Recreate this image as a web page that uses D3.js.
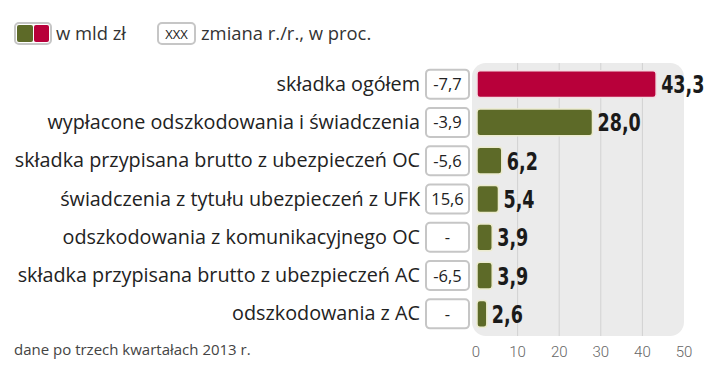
<!DOCTYPE html>
<html>
<head>
<meta charset="utf-8">
<script src="https://cdn.jsdelivr.net/npm/d3@7"></script>
<style>
  body { margin: 0; background: #fff; }
  svg text { font-family: "Open Sans", Roboto, sans-serif; }
  .lbl { font-size: 19.8px; fill: #222; }
  .leg { font-size: 18.4px; fill: #333; }
  .val { font-family: "DejaVu Sans Condensed", "DejaVu Sans", sans-serif !important; font-weight: bold; font-size: 25px; fill: #1a1a1a; }
  .chg { font-size: 16.5px; fill: #222; }
  .tick-lbl { font-size: 15px; fill: #666; font-family: Roboto, sans-serif !important; font-weight: 300; }
</style>
</head>
<body>
<div id="chart"></div>
<script>
// dane
var categories = [
  "składka ogółem",
  "wypłacone odszkodowania i świadczenia",
  "składka przypisana brutto z ubezpieczeń OC",
  "świadczenia z tytułu ubezpieczeń z UFK",
  "odszkodowania z komunikacyjnego OC",
  "składka przypisana brutto z ubezpieczeń AC",
  "odszkodowania z AC"
];
var values = [43.3, 28.0, 6.2, 5.4, 3.9, 3.9, 2.6];
var changes = ["-7,7", "-3,9", "-5,6", "15,6", "-", "-6,5", "-"];
var ticks = [0, 10, 20, 30, 40, 50];

var width = 720, height = 374;
var red = "#b8003a", green = "#5d6a28";
var fmt = d => d.toFixed(1).replace(".", ",");

var svg = d3.select("#chart").append("svg")
  .attr("width", width)
  .attr("height", height);

var x = d3.scaleLinear().domain([0, 50]).range([476, 684]);
var y = d3.scaleBand().domain(categories).range([65, 333]).paddingInner(0.3).paddingOuter(0.15);

// tło
svg.append("rect")
  .attr("x", 472).attr("y", 63)
  .attr("width", 212).attr("height", 273)
  .attr("rx", 14)
  .attr("fill", "#ebebeb");

svg.append("g").selectAll("line")
  .data(ticks.filter(t => t > 0 && t < 50))
  .enter().append("line")
  .attr("x1", d => x(d)).attr("x2", d => x(d))
  .attr("y1", 63).attr("y2", 336)
  .attr("stroke", "#d2d2d2")
  .attr("stroke-width", 1);

// oś
svg.append("g").selectAll("text")
  .data(ticks)
  .enter().append("text")
  .attr("class", "tick-lbl")
  .attr("x", d => x(d))
  .attr("y", 357)
  .attr("text-anchor", "middle")
  .text(d => d);

var rows = svg.append("g").selectAll("g")
  .data(categories)
  .enter().append("g")
  .attr("transform", d => "translate(0," + y(d) + ")");

var bh = y.bandwidth();

rows.append("text")
  .attr("class", "lbl")
  .attr("x", 420)
  .attr("y", bh / 2 + 6.5)
  .attr("text-anchor", "end")
  .text(d => d);

rows.append("rect")
  .attr("x", 426).attr("y", bh / 2 - 14.5)
  .attr("width", 43).attr("height", 29)
  .attr("rx", 4)
  .attr("fill", "#fff")
  .attr("stroke", "#c6c6c6")
  .attr("stroke-width", 2);

rows.append("text")
  .attr("class", "chg")
  .attr("x", 447.5)
  .attr("y", bh / 2 + 6)
  .attr("text-anchor", "middle")
  .text((d, i) => changes[i]);

rows.append("rect")
  .attr("x", x(0) + 1)
  .attr("y", 0)
  .attr("width", (d, i) => x(values[i]) - x(0) - 1)
  .attr("height", bh)
  .attr("rx", 3)
  .attr("fill", (d, i) => i === 0 ? red : green)
  .attr("stroke", (d, i) => i === 0 ? "#f3dde3" : "#ecebcf")
  .attr("stroke-width", 1.5);

rows.append("text")
  .attr("class", "val")
  .attr("transform", (d, i) => "translate(" + (x(values[i]) + 5) + "," + (bh / 2 + 9) + ") scale(0.78,1)")
  .text((d, i) => fmt(values[i]));

// legenda
var leg = svg.append("g");
leg.append("rect").attr("x", 15).attr("y", 23).attr("width", 36).attr("height", 21).attr("rx", 4)
  .attr("fill", "#fff").attr("stroke", "#c6c6c6").attr("stroke-width", 2);
leg.append("rect").attr("x", 17).attr("y", 25).attr("width", 16).attr("height", 17).attr("rx", 2).attr("fill", green);
leg.append("rect").attr("x", 34).attr("y", 25).attr("width", 15).attr("height", 17).attr("rx", 2).attr("fill", red);
leg.append("text").attr("class", "leg").attr("x", 56).attr("y", 40).text("w mld zł");

leg.append("rect").attr("x", 158).attr("y", 23).attr("width", 37).attr("height", 21).attr("rx", 4)
  .attr("fill", "#fff").attr("stroke", "#c6c6c6").attr("stroke-width", 2);
leg.append("text").attr("class", "chg").attr("x", 176.5).attr("y", 39).attr("text-anchor", "middle")
  .style("font-size", "13px").text("XXX");
leg.append("text").attr("class", "leg").attr("x", 201).attr("y", 40).text("zmiana r./r., w proc.");

svg.append("text")
  .attr("x", 14).attr("y", 355)
  .style("font-size", "15px").style("fill", "#444")
  .text("dane po trzech kwartałach 2013 r.");
</script>
</body>
</html>
